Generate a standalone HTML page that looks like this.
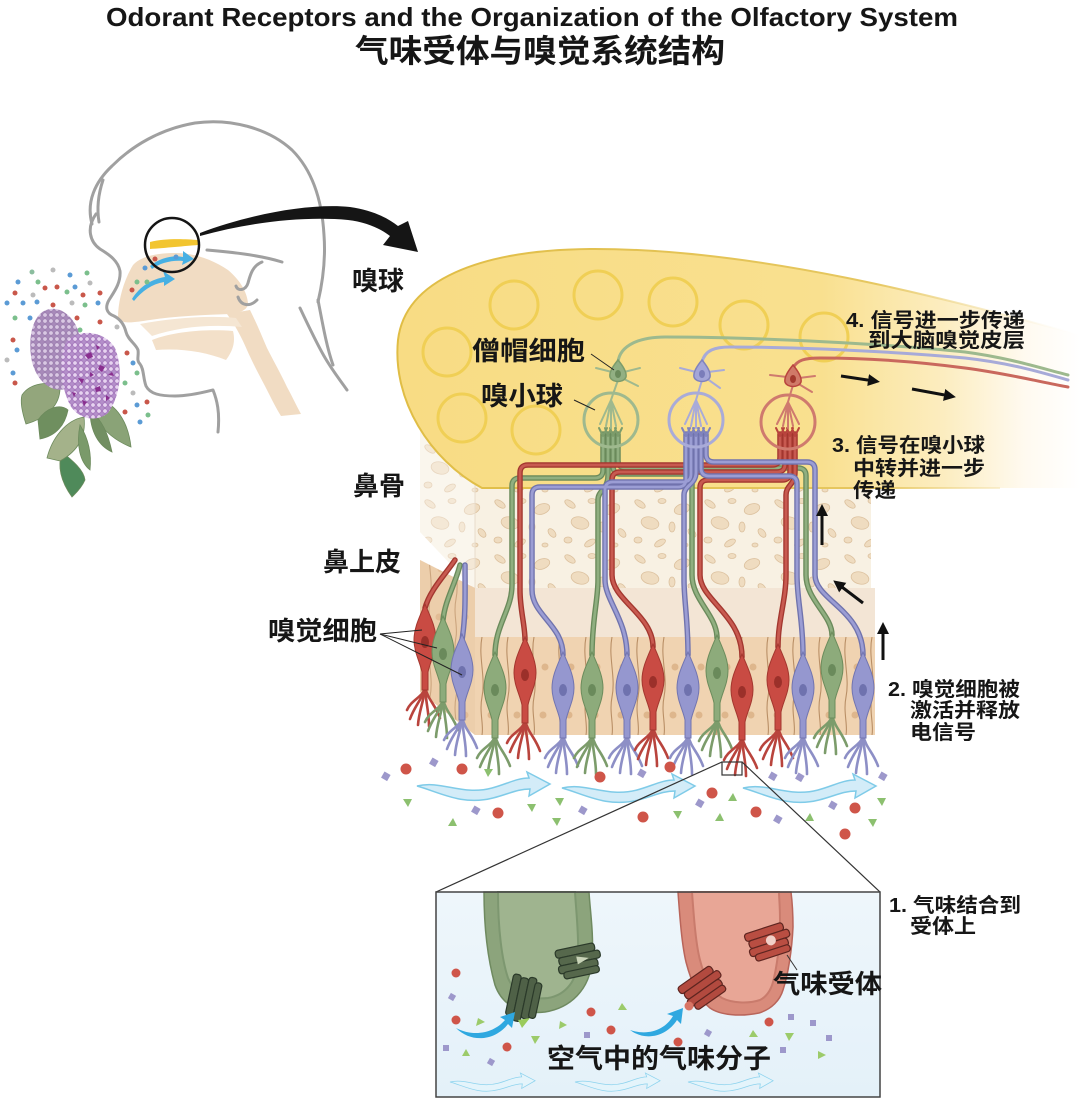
<!DOCTYPE html>
<html><head><meta charset="utf-8"><style>
html,body{margin:0;padding:0;background:#fff;}
svg{display:block;}
text{font-family:"Liberation Sans","Noto Sans CJK SC",sans-serif;font-weight:bold;fill:#161616;}
</style></head><body>
<svg width="1080" height="1099" viewBox="0 0 1080 1099" xmlns="http://www.w3.org/2000/svg">
<defs>
<linearGradient id="bulbG" gradientUnits="userSpaceOnUse" x1="400" y1="0" x2="1080" y2="0">
<stop offset="0" stop-color="#f8dc84"/><stop offset="0.62" stop-color="#f9e08f"/><stop offset="0.8" stop-color="#fcedc0"/><stop offset="0.92" stop-color="#fffaf0"/><stop offset="1" stop-color="#ffffff"/></linearGradient>
<linearGradient id="bulbS" gradientUnits="userSpaceOnUse" x1="400" y1="0" x2="1080" y2="0">
<stop offset="0" stop-color="#e0bd45"/><stop offset="0.7" stop-color="#e6c760"/><stop offset="0.9" stop-color="#f6e6b8" stop-opacity="0.5"/><stop offset="1" stop-color="#fff" stop-opacity="0"/></linearGradient>
<linearGradient id="insetG" x1="0" y1="0" x2="0" y2="1"><stop offset="0" stop-color="#eef6fb"/><stop offset="1" stop-color="#e4f1f9"/></linearGradient>
<pattern id="boneP" patternUnits="userSpaceOnUse" width="70" height="55">
<rect width="70" height="55" fill="#f8f1e3"/>
<g fill="#efdcc0" stroke="#dcc19e" stroke-width="0.8">
<ellipse cx="10" cy="9" rx="6" ry="3" transform="rotate(35 10 9)"/>
<ellipse cx="32" cy="6" rx="4" ry="2.5"/>
<ellipse cx="52" cy="14" rx="8" ry="5" transform="rotate(-20 52 14)"/>
<ellipse cx="20" cy="28" rx="9" ry="6" transform="rotate(15 20 28)"/>
<ellipse cx="42" cy="32" rx="3" ry="5"/>
<ellipse cx="62" cy="38" rx="5" ry="3" transform="rotate(50 62 38)"/>
<ellipse cx="8" cy="45" rx="4" ry="3"/>
<ellipse cx="30" cy="48" rx="6" ry="3" transform="rotate(-30 30 48)"/>
<ellipse cx="55" cy="50" rx="3" ry="2"/>
</g></pattern>
<pattern id="epiP" patternUnits="userSpaceOnUse" width="26" height="98" patternTransform="translate(475,637)">
<rect width="26" height="98" fill="#f0d3b1"/>
<path d="M7,0 C3,20 11,40 7,60 C4,75 9,88 7,98" stroke="#b98f66" stroke-width="1.1" fill="none"/>
<circle cx="18" cy="30" r="3.5" fill="#deb68c"/><circle cx="16" cy="78" r="3.5" fill="#deb68c"/>
</pattern>
<pattern id="lilacP" patternUnits="userSpaceOnUse" width="6" height="6">
<rect width="6" height="6" fill="#b48fca"/>
<circle cx="3" cy="3" r="2.3" fill="#e6d3f0" stroke="#a070b8" stroke-width="0.8"/>
</pattern>
<pattern id="lilacP2" patternUnits="userSpaceOnUse" width="6" height="6">
<rect width="6" height="6" fill="#a88aba"/>
<circle cx="3" cy="3" r="2.3" fill="#d9c8e3" stroke="#9a7cad" stroke-width="0.8"/>
</pattern>
<marker id="ah" viewBox="0 0 10 10" refX="5" refY="5" markerWidth="4" markerHeight="4" orient="auto"><path d="M0,0 L10,5 L0,10 Z" fill="#111"/></marker>
<path id="nb" d="M0,652 C6,666 11,676 11,688 C11,700 5,710 3,720 L3,738 L-3,738 L-3,720 C-5,710 -11,700 -11,688 C-11,676 -6,666 0,652 Z"/>
<g id="nd" fill="none" stroke-width="2.6" stroke-linecap="round"><path d="M0,735 C-3,748 -10,753 -15,767"/><path d="M0,735 C-1,750 -6,758 -7,773"/><path d="M0,735 C1,752 4,760 4,774"/><path d="M0,735 C3,748 10,752 15,766"/><path d="M0,736 C-2,745 -14,748 -18,758"/></g>
<path id="rib" d="M0,0 C25,-6 45,10 75,2 C90,-2 100,-8 112,-8 L110,-14 L133,-2 L112,10 L113,3 C100,3 92,8 76,12 C45,20 22,6 0,0 Z"/>
<path id="aN1" d="M495,655 C495,625 512,610 512,585 L512,486 Q512,478 520,478 L595,478 Q603,478 603,470 L603,434"/>
<path id="aN4" d="M592,655 C592,620 598,600 598,580 L598,500 C598,490 608,490 608,475 L608,434"/>
<path id="aN8" d="M717,638 C717,615 692,600 692,575 L692,482 Q692,474 684,474 L621,474 Q613,474 613,466 L613,434"/>
<path id="aN12" d="M832,635 C832,615 806,600 806,575 L806,476 Q806,468 798,468 L626,468 Q618,468 618,460 L618,434"/>
<path id="aL2" d="M443,620 C445,600 455,585 460,565"/>
<path id="aN2" d="M525,640 C525,625 520,610 520,590 L520,473 Q520,465 528,465 L772,465 Q780,465 780,457 L780,434"/>
<path id="aN6" d="M653,647 C653,615 612,600 612,575 L612,480 Q612,472 620,472 L777,472 Q785,472 785,464 L785,434"/>
<path id="aN9" d="M742,657 C742,615 700,600 700,575 L700,488 Q700,480 708,480 L782,480 Q790,480 790,472 L790,434"/>
<path id="aN10" d="M778,647 C778,620 786,600 786,575 L786,495 C786,485 795,485 795,472 L795,434"/>
<path id="aL1" d="M425,608 C430,590 445,575 455,560"/>
<path id="aN3" d="M563,655 C563,625 532,615 532,590 L532,495 Q532,487 540,487 L678,487 Q686,487 686,479 L686,434"/>
<path id="aN5" d="M627,655 C627,620 605,600 605,580 L605,490 Q605,482 613,482 L683,482 Q691,482 691,474 L691,434"/>
<path id="aN7" d="M688,655 C688,620 684,600 684,580 L684,495 C684,485 696,485 696,472 L696,434"/>
<path id="aN11" d="M803,655 C803,620 797,600 797,575 L797,484 Q797,476 789,476 L709,476 Q701,476 701,468 L701,434"/>
<path id="aN13" d="M863,655 C863,610 815,600 815,575 L815,470 Q815,462 807,462 L714,462 Q706,462 706,454 L706,434"/>
<path id="aL3" d="M462,640 C466,615 465,590 465,565"/>
</defs>

<rect width="1080" height="1099" fill="#fff"/>

<!-- Titles -->
<text x="106" y="26" font-size="26" textLength="852" lengthAdjust="spacingAndGlyphs">Odorant Receptors and the Organization of the Olfactory System</text>
<text x="355" y="62" font-size="32" textLength="370" lengthAdjust="spacingAndGlyphs">气味受体与嗅觉系统结构</text>

<!-- ============ HEAD ============ -->
<g fill="#f1dcc3">
<path d="M118,318 C118,300 124,280 133,265 C140,257 155,253 175,253 C195,253 213,260 228,270 C240,280 247,292 248,303 C248,310 240,313 230,314 C205,315 175,316 150,320 C135,322 122,325 118,318 Z"/>
<path d="M227,314 C235,325 242,338 247,350 C255,368 262,380 267,390 C272,400 276,408 281,416 L301,414 C296,405 292,396 287,387 C280,372 273,360 267,348 C261,334 256,322 250,310 Z"/>
<path d="M140,324 C170,318 210,315 236,318 L242,327 C210,324 178,327 152,336 Z" fill="#f5e6d3"/>
<path d="M152,340 C175,331 208,329 233,331 C236,343 232,352 226,360 C206,352 182,348 156,350 Z" fill="#f3e0c9"/>
</g>
<g fill="none" stroke="#a0a0a0" stroke-width="3" stroke-linecap="round" stroke-linejoin="round">
<path d="M92,224 C86,202 95,182 112,166 C132,146 160,129 195,123 C230,118 268,128 292,150 C312,170 322,200 324,235 C326,262 322,285 318,302"/>
<path d="M96,214 C86,228 90,242 100,249 C110,255 118,261 120,271 C121,283 114,292 109,300 C105,307 106,313 114,316 C120,319 124,324 126,332 C128,340 136,344 138,350 C139,356 136,360 140,364 C144,369 143,378 146,386 C150,394 160,396 175,396 C190,396 205,392 213,390 C217,400 220,412 218,432"/>
<path d="M300,308 C308,325 316,342 324,356 C332,370 340,380 347,390"/>
<path d="M318,300 C322,320 326,345 333,365"/>
<path d="M207,250 C230,252 260,255 282,262"/>
<path d="M262,262 C252,266 250,276 248,283 C246,290 238,292 236,286"/>
<path d="M238,297 C241,306 250,307 257,300"/>
<path d="M103,180 C98,195 97,210 99,222"/>
</g>
<path d="M132,299 C140,286 152,279 165,277 L163,271 L175,279 L164,286 L164,282 C152,284 142,291 134,301 Z" fill="#47b0e3"/>
<path d="M150,266 C160,258 172,255 183,257 L183,251 L194,259 L182,265 L183,261 C172,260 160,263 152,269 Z" fill="#47b0e3"/>
<path d="M150,242 C165,238 185,239 198,240 L198,245 C185,246 165,248 150,249 Z" fill="#f2c530"/>
<circle cx="172" cy="245" r="27" fill="none" stroke="#151515" stroke-width="2.5"/>
<path d="M200,233 C250,214 310,203 350,207 C372,210 388,218 398,226 L408,221 L418,252 L383,245 L390,236 C380,228 365,222 348,220 C305,216 250,222 200,236 Z" fill="#151515"/>
<g>
<circle cx="32" cy="272" r="2.5" fill="#8bbd9e"/><circle cx="53" cy="270" r="2.5" fill="#bbb"/><circle cx="70" cy="275" r="2.5" fill="#5b9bd5"/><circle cx="87" cy="273" r="2.5" fill="#7bbf8c"/>
<circle cx="18" cy="282" r="2.5" fill="#5b9bd5"/><circle cx="38" cy="282" r="2.5" fill="#7bbf8c"/><circle cx="57" cy="287" r="2.5" fill="#c9574a"/><circle cx="75" cy="287" r="2.5" fill="#5b9bd5"/>
<circle cx="90" cy="283" r="2.5" fill="#bbb"/><circle cx="15" cy="293" r="2.5" fill="#c9574a"/><circle cx="45" cy="288" r="2.5" fill="#c9574a"/><circle cx="33" cy="295" r="2.5" fill="#bbb"/>
<circle cx="67" cy="292" r="2.5" fill="#7bbf8c"/><circle cx="83" cy="295" r="2.5" fill="#c9574a"/><circle cx="100" cy="293" r="2.5" fill="#c9574a"/><circle cx="7" cy="303" r="2.5" fill="#5b9bd5"/>
<circle cx="23" cy="303" r="2.5" fill="#5b9bd5"/><circle cx="37" cy="302" r="2.5" fill="#5b9bd5"/><circle cx="53" cy="305" r="2.5" fill="#c9574a"/><circle cx="72" cy="303" r="2.5" fill="#bbb"/>
<circle cx="85" cy="305" r="2.5" fill="#7bbf8c"/><circle cx="98" cy="303" r="2.5" fill="#5b9bd5"/><circle cx="15" cy="318" r="2.5" fill="#7bbf8c"/><circle cx="30" cy="318" r="2.5" fill="#5b9bd5"/>
<circle cx="77" cy="318" r="2.5" fill="#c9574a"/><circle cx="100" cy="322" r="2.5" fill="#c9574a"/><circle cx="117" cy="327" r="2.5" fill="#bbb"/><circle cx="80" cy="330" r="2.5" fill="#7bbf8c"/>
<circle cx="13" cy="340" r="2.5" fill="#c9574a"/><circle cx="17" cy="350" r="2.5" fill="#5b9bd5"/><circle cx="7" cy="360" r="2.5" fill="#bbb"/><circle cx="127" cy="353" r="2.5" fill="#c9574a"/>
<circle cx="133" cy="363" r="2.5" fill="#5b9bd5"/><circle cx="137" cy="373" r="2.5" fill="#7bbf8c"/><circle cx="13" cy="373" r="2.5" fill="#5b9bd5"/><circle cx="15" cy="383" r="2.5" fill="#c9574a"/>
<circle cx="125" cy="383" r="2.5" fill="#7bbf8c"/><circle cx="133" cy="393" r="2.5" fill="#bbb"/><circle cx="137" cy="405" r="2.5" fill="#5b9bd5"/><circle cx="147" cy="402" r="2.5" fill="#c9574a"/>
<circle cx="148" cy="415" r="2.5" fill="#7bbf8c"/><circle cx="125" cy="412" r="2.5" fill="#c9574a"/><circle cx="140" cy="422" r="2.5" fill="#5b9bd5"/>
<circle cx="155" cy="259" r="2.5" fill="#c9574a"/><circle cx="176" cy="257" r="2.5" fill="#5b9bd5"/><circle cx="145" cy="268" r="2.5" fill="#5b9bd5"/>
<circle cx="137" cy="282" r="2.5" fill="#7bbf8c"/><circle cx="147" cy="282" r="2.5" fill="#7bbf8c"/><circle cx="132" cy="290" r="2.5" fill="#c9574a"/>
</g>
<!-- lilac leaves -->
<g stroke="#6c8a5c" stroke-width="0.8">
<path d="M100,400 C115,404 128,420 131,447 C118,442 103,432 94,415 Z" fill="#8aa377"/>
<path d="M90,410 C102,420 108,433 112,452 C99,446 90,432 90,410 Z" fill="#728f62"/>
<path d="M22,395 C30,383 50,380 60,388 C60,405 47,418 26,424 C22,412 20,402 22,395 Z" fill="#93a67c"/>
<path d="M38,420 C46,408 60,403 68,410 C65,425 56,436 40,439 Z" fill="#6f8f5f"/>
<path d="M62,452 C72,460 84,470 85,480 C81,489 75,494 72,497 C64,486 56,470 62,452 Z" fill="#4f8a5a"/>
<path d="M47,458 C52,438 66,420 84,417 C86,434 80,450 60,461 Z" fill="#a4b28a"/>
<path d="M80,425 C88,438 92,452 90,470 C80,462 76,445 80,425 Z" fill="#7a9a6a"/>
</g>
<path d="M40,314 C52,303 70,310 78,330 C84,352 80,372 68,388 C54,394 38,384 32,362 C28,342 31,323 40,314 Z" fill="url(#lilacP2)"/>
<path d="M66,342 C78,328 104,330 115,348 C123,368 121,395 108,413 C96,423 78,419 70,405 C60,385 59,360 66,342 Z" fill="url(#lilacP)"/>
<g fill="#8a2f8f">
<path d="M85,355 l6,-3 l2,5 l-5,2 Z"/><path d="M100,365 l5,2 l-3,5 l-4,-3 Z"/><path d="M78,378 l6,1 l-2,5 Z"/><path d="M95,388 l5,-2 l1,5 l-5,1 Z"/><path d="M106,395 l4,3 l-4,3 Z"/><path d="M82,400 l5,2 l-3,4 Z"/><path d="M108,375 l4,-3 l2,4 Z"/><path d="M90,372 l4,3 l-4,2 Z"/><path d="M96,345 l4,2 l-3,3 Z"/><path d="M72,392 l4,1 l-2,4 Z"/>
</g>

<!-- ============ BONE + EPITHELIUM ============ -->
<polygon points="420,420 475,450 475,590 420,532" fill="url(#boneP)"/>
<polygon points="420,420 475,450 475,590 420,532" fill="#fff" opacity="0.35"/>
<rect x="475" y="440" width="396" height="150" fill="url(#boneP)"/>
<line x1="475" y1="450" x2="475" y2="590" stroke="#e8dccb" stroke-width="1"/>
<polygon points="420,560 475,588 475,735 420,692" fill="#e7c6a2"/>
<polygon points="420,560 475,588 475,735 420,692" fill="url(#epiP)" opacity="0.6"/>
<rect x="475" y="588" width="400" height="49" fill="#f3e5d5"/>
<rect x="475" y="637" width="400" height="98" fill="url(#epiP)"/>

<!-- ============ BULB ============ -->
<path d="M1080,335 C950,300 760,248 590,249 C480,250 405,280 398,340 C392,400 430,460 482,488 L1080,488 Z" fill="url(#bulbG)"/>
<path d="M1080,335 C950,300 760,248 590,249 C480,250 405,280 398,340 C392,400 430,460 482,488 L1000,488" fill="none" stroke="url(#bulbS)" stroke-width="2"/>
<g fill="none" stroke="#f0cf55" stroke-width="3">
<circle cx="447" cy="352" r="24"/><circle cx="514" cy="305" r="24"/><circle cx="598" cy="295" r="24"/><circle cx="673" cy="302" r="24"/>
<circle cx="744" cy="325" r="24"/><circle cx="824" cy="337" r="24"/><circle cx="462" cy="418" r="24"/><circle cx="536" cy="430" r="24"/>
</g>

<!-- ============ AXONS ============ -->
<g fill="none" stroke-linecap="round" stroke-linejoin="round">
<g stroke="#6a8a5b" stroke-width="5.5"><use href="#aN1"/><use href="#aN4"/><use href="#aN8"/><use href="#aN12"/><use href="#aL2"/></g>
<g stroke="#90af80" stroke-width="2.8"><use href="#aN1"/><use href="#aN4"/><use href="#aN8"/><use href="#aN12"/><use href="#aL2"/></g>
<g stroke="#a3372f" stroke-width="5.5"><use href="#aN2"/><use href="#aN6"/><use href="#aN9"/><use href="#aN10"/><use href="#aL1"/></g>
<g stroke="#c85a50" stroke-width="2.8"><use href="#aN2"/><use href="#aN6"/><use href="#aN9"/><use href="#aN10"/><use href="#aL1"/></g>
<g stroke="#7073ad" stroke-width="5.5"><use href="#aN3"/><use href="#aN5"/><use href="#aN7"/><use href="#aN11"/><use href="#aN13"/><use href="#aL3"/></g>
<g stroke="#9b9dd4" stroke-width="2.8"><use href="#aN3"/><use href="#aN5"/><use href="#aN7"/><use href="#aN11"/><use href="#aN13"/><use href="#aL3"/></g>
</g>
<g fill="none" stroke-width="2" stroke-linecap="round">
<path stroke="#7c9c6b" d="M603,436 L599,428 M603,436 L607,428 M608,436 L605,428 M608,436 L611,428 M613,436 L610,428 M613,436 L616,428 M618,436 L615,428 M618,436 L622,428"/>
<path stroke="#8083bd" d="M686,436 L682,428 M686,436 L690,428 M691,436 L688,428 M691,436 L694,428 M696,436 L693,428 M696,436 L699,428 M701,436 L698,428 M701,436 L704,428 M706,436 L703,428 M706,436 L710,428"/>
<path stroke="#b9443d" d="M780,436 L776,428 M780,436 L784,428 M785,436 L782,428 M785,436 L788,428 M790,436 L787,428 M790,436 L793,428 M795,436 L792,428 M795,436 L799,428"/>
</g>
<circle cx="611" cy="420" r="27" fill="none" stroke="#9fb98e" stroke-width="3"/>
<circle cx="696" cy="420" r="27" fill="none" stroke="#a9abd8" stroke-width="3"/>
<circle cx="788" cy="422" r="27" fill="none" stroke="#cf7a6e" stroke-width="3"/>
<g fill="none" stroke-width="2" stroke-linecap="round">
<path stroke="#9fb98e" d="M618,380 L611,400 M611,400 L600,424 M611,400 L606,426 M611,400 L611,428 M611,400 L616,426 M611,400 L622,424 M612,372 L596,368 M624,372 L640,368 M622,378 L638,386"/>
<path stroke="#a9abd8" d="M702,380 L696,400 M696,400 L685,424 M696,400 L691,426 M696,400 L696,428 M696,400 L701,426 M696,400 L707,424 M696,372 L680,368 M708,372 L724,370 M706,378 L720,388"/>
<path stroke="#cf7a6e" d="M793,385 L788,402 M788,402 L777,424 M788,402 L783,426 M788,402 L788,428 M788,402 L793,426 M788,402 L799,424 M787,377 L770,375 M799,378 L815,376 M797,383 L812,392"/>
</g>
<g fill="none" stroke-width="3" stroke-linecap="round">
<path stroke="#9db98e" d="M618,362 C620,345 640,337 665,337 C760,337 900,345 965,352 C1010,358 1040,368 1068,375"/>
<path stroke="#a7aad8" d="M702,362 C705,350 715,347 730,347 C800,347 900,352 965,358 C1010,363 1040,372 1068,380"/>
<path stroke="#c9685d" d="M793,368 C797,360 805,358 820,358 C870,358 920,362 965,368 C1010,374 1040,382 1068,387"/>
</g>
<g stroke-width="1.5">
<path d="M618,360 C623,366 627,372 626,377 C624,383 612,383 610,377 C609,372 613,366 618,360 Z" fill="#92b083" stroke="#7c9c6b"/>
<ellipse cx="618" cy="374" rx="3" ry="4" fill="#6a8a5b"/>
<path d="M702,360 C707,366 711,372 710,377 C708,383 696,383 694,377 C693,372 697,366 702,360 Z" fill="#a4a6d8" stroke="#8083bd"/>
<ellipse cx="702" cy="374" rx="3" ry="4" fill="#7a7dba"/>
<path d="M793,365 C798,371 802,377 801,382 C799,388 787,388 785,382 C784,377 788,371 793,365 Z" fill="#d07a68" stroke="#b9443d"/>
<ellipse cx="793" cy="379" rx="3" ry="4" fill="#a33a2e"/>
</g>

<!-- ============ NEURONS ============ -->
<g transform="translate(425,-48)"><use href="#nd" stroke="#b9443d"/><use href="#nb" fill="#c94b43" stroke="#a4372f"/><ellipse cx="0" cy="690" rx="4" ry="6" fill="#9b302a"/></g>
<g transform="translate(443,-36)"><use href="#nd" stroke="#7c9c6b"/><use href="#nb" fill="#8dab7b" stroke="#6c8c5c"/><ellipse cx="0" cy="690" rx="4" ry="6" fill="#6a8a5b"/></g>
<g transform="translate(462,-18)"><use href="#nd" stroke="#8d8fc6"/><use href="#nb" fill="#9597cf" stroke="#7275b0"/><ellipse cx="0" cy="690" rx="4" ry="6" fill="#6f72ae"/></g>
<g transform="translate(495,0)"><use href="#nd" stroke="#7c9c6b"/><use href="#nb" fill="#8dab7b" stroke="#6c8c5c"/><ellipse cx="0" cy="690" rx="4" ry="6" fill="#6a8a5b"/></g>
<g transform="translate(525,-15)"><use href="#nd" stroke="#b9443d"/><use href="#nb" fill="#c94b43" stroke="#a4372f"/><ellipse cx="0" cy="690" rx="4" ry="6" fill="#9b302a"/></g>
<g transform="translate(563,0)"><use href="#nd" stroke="#8d8fc6"/><use href="#nb" fill="#9597cf" stroke="#7275b0"/><ellipse cx="0" cy="690" rx="4" ry="6" fill="#6f72ae"/></g>
<g transform="translate(592,0)"><use href="#nd" stroke="#7c9c6b"/><use href="#nb" fill="#8dab7b" stroke="#6c8c5c"/><ellipse cx="0" cy="690" rx="4" ry="6" fill="#6a8a5b"/></g>
<g transform="translate(627,0)"><use href="#nd" stroke="#8d8fc6"/><use href="#nb" fill="#9597cf" stroke="#7275b0"/><ellipse cx="0" cy="690" rx="4" ry="6" fill="#6f72ae"/></g>
<g transform="translate(653,-8)"><use href="#nd" stroke="#b9443d"/><use href="#nb" fill="#c94b43" stroke="#a4372f"/><ellipse cx="0" cy="690" rx="4" ry="6" fill="#9b302a"/></g>
<g transform="translate(688,0)"><use href="#nd" stroke="#8d8fc6"/><use href="#nb" fill="#9597cf" stroke="#7275b0"/><ellipse cx="0" cy="690" rx="4" ry="6" fill="#6f72ae"/></g>
<g transform="translate(717,-17)"><use href="#nd" stroke="#7c9c6b"/><use href="#nb" fill="#8dab7b" stroke="#6c8c5c"/><ellipse cx="0" cy="690" rx="4" ry="6" fill="#6a8a5b"/></g>
<g transform="translate(742,2)"><use href="#nd" stroke="#b9443d"/><use href="#nb" fill="#c94b43" stroke="#a4372f"/><ellipse cx="0" cy="690" rx="4" ry="6" fill="#9b302a"/></g>
<g transform="translate(778,-8)"><use href="#nd" stroke="#b9443d"/><use href="#nb" fill="#c94b43" stroke="#a4372f"/><ellipse cx="0" cy="690" rx="4" ry="6" fill="#9b302a"/></g>
<g transform="translate(803,0)"><use href="#nd" stroke="#8d8fc6"/><use href="#nb" fill="#9597cf" stroke="#7275b0"/><ellipse cx="0" cy="690" rx="4" ry="6" fill="#6f72ae"/></g>
<g transform="translate(832,-20)"><use href="#nd" stroke="#7c9c6b"/><use href="#nb" fill="#8dab7b" stroke="#6c8c5c"/><ellipse cx="0" cy="690" rx="4" ry="6" fill="#6a8a5b"/></g>
<g transform="translate(863,0)"><use href="#nd" stroke="#8d8fc6"/><use href="#nb" fill="#9597cf" stroke="#7275b0"/><ellipse cx="0" cy="690" rx="4" ry="6" fill="#6f72ae"/></g>

<!-- ============ ARROWS ============ -->
<g stroke="#111" stroke-width="3" marker-end="url(#ah)">
<line x1="841" y1="376" x2="874" y2="381"/>
<line x1="912" y1="389" x2="950" y2="396"/>
<line x1="822" y1="545" x2="822" y2="510"/>
<line x1="863" y1="603" x2="838" y2="584"/>
<line x1="883" y1="660" x2="883" y2="628"/>
</g>

<!-- ============ AIR FLOW + MOLECULES ============ -->
<g fill="#d3ecf8" stroke="#7fcbe8" stroke-width="1.5">
<use href="#rib" transform="translate(417,786)"/>
<use href="#rib" transform="translate(562,788)"/>
<use href="#rib" transform="translate(743,788)"/>
</g>
<g fill="#cf5549">
<circle cx="406" cy="769" r="5.5"/><circle cx="462" cy="769" r="5.5"/><circle cx="600" cy="777" r="5.5"/><circle cx="670" cy="767" r="5.5"/>
<circle cx="712" cy="793" r="5.5"/><circle cx="498" cy="813" r="5.5"/><circle cx="643" cy="817" r="5.5"/><circle cx="756" cy="812" r="5.5"/>
<circle cx="855" cy="808" r="5.5"/><circle cx="845" cy="834" r="5.5"/>
</g>
<g fill="#9d98cb">
<rect x="382" y="773" width="7" height="7" transform="rotate(30 386 777)"/><rect x="430" y="759" width="7" height="7" transform="rotate(30 434 763)"/>
<rect x="472" y="807" width="7" height="7" transform="rotate(30 476 811)"/><rect x="579" y="807" width="7" height="7" transform="rotate(30 583 811)"/>
<rect x="638" y="770" width="7" height="7" transform="rotate(30 642 774)"/><rect x="696" y="800" width="7" height="7" transform="rotate(30 700 804)"/>
<rect x="769" y="773" width="7" height="7" transform="rotate(30 773 777)"/><rect x="796" y="774" width="7" height="7" transform="rotate(30 800 778)"/>
<rect x="829" y="802" width="7" height="7" transform="rotate(30 833 806)"/><rect x="774" y="816" width="7" height="7" transform="rotate(30 778 820)"/>
<rect x="879" y="773" width="7" height="7" transform="rotate(30 883 777)"/>
</g>
<g fill="#8cc06f">
<polygon points="403,799 412,799 408,807"/><polygon points="484,769 493,769 488,777"/><polygon points="527,804 536,804 532,812"/>
<polygon points="555,798 564,798 560,806"/><polygon points="448,826 457,826 453,818"/><polygon points="552,818 561,818 557,826"/>
<polygon points="673,811 682,811 678,819"/><polygon points="728,801 737,801 733,793"/><polygon points="715,821 724,821 720,813"/>
<polygon points="805,821 814,821 810,813"/><polygon points="877,798 886,798 882,806"/><polygon points="868,819 877,819 873,827"/>
</g>

<g fill="none" stroke="#333" stroke-width="1.2">
<rect x="722" y="762" width="20" height="13"/>
<line x1="722" y1="762" x2="436" y2="892"/>
<line x1="742" y1="762" x2="880" y2="892"/>
</g>

<!-- ============ INSET ============ -->
<rect x="436" y="892" width="444" height="205" fill="url(#insetG)"/>
<g>
<path d="M484,892 C484,930 488,960 495,985 C502,1005 520,1015 545,1012 C570,1008 590,990 592,960 C594,935 590,910 589,892 Z" fill="#8ca47c" stroke="#6f8a60" stroke-width="1.5"/>
<path d="M498,892 C498,930 502,960 508,978 C515,995 530,1000 548,998 C566,995 578,980 578,958 C579,935 576,910 575,892 Z" fill="#9fb48f" stroke="#7d9770" stroke-width="2"/>
<path d="M678,892 C680,920 682,945 686,962 C692,985 700,1000 710,1008 C720,1015 740,1017 759,1013 C772,1009 780,1000 783,990 C788,975 792,950 793,927 C793,910 792,900 791,892 Z" fill="#d98b7b" stroke="#b9655a" stroke-width="1.5"/>
<path d="M692,892 C694,920 696,945 700,960 C705,980 712,992 722,998 C732,1003 748,1004 760,1000 C768,996 772,988 774,978 C778,960 780,940 780,920 C780,905 779,898 779,892 Z" fill="#e8a696" stroke="#c97b6c" stroke-width="2"/>
</g>
<g transform="translate(579,960) rotate(-12)" stroke="#2b3a2a" stroke-width="1.2" fill="#56684c">
<rect x="-22" y="-14" width="40" height="8" rx="3"/><rect x="-20" y="-6" width="42" height="8" rx="3"/><rect x="-22" y="2" width="40" height="8" rx="3"/><rect x="-18" y="9" width="36" height="7" rx="3"/>
<polygon points="-2,-4 10,0 -2,4" fill="#c9d4b8" stroke="none"/>
</g>
<g transform="translate(523,998) rotate(12)" stroke="#2b3a2a" stroke-width="1.2" fill="#4f6147">
<rect x="-14" y="-22" width="8" height="42" rx="3"/><rect x="-6" y="-20" width="8" height="44" rx="3"/><rect x="2" y="-22" width="8" height="42" rx="3"/><rect x="9" y="-18" width="7" height="36" rx="3"/>
</g>
<polygon points="518,1020 530,1018 522,1028" fill="#9acb5b"/>
<g transform="translate(769,941) rotate(-18)" stroke="#5e2520" stroke-width="1.2" fill="#b94e42">
<rect x="-22" y="-14" width="40" height="8" rx="3"/><rect x="-20" y="-6" width="42" height="8" rx="3"/><rect x="-22" y="2" width="40" height="8" rx="3"/><rect x="-18" y="9" width="36" height="7" rx="3"/>
<circle cx="2" cy="0" r="5" fill="#f1d0c8" stroke="none"/>
</g>
<g transform="translate(703,987) rotate(-35)" stroke="#5e2520" stroke-width="1.2" fill="#b24a3f">
<rect x="-22" y="-14" width="40" height="8" rx="3"/><rect x="-20" y="-6" width="42" height="8" rx="3"/><rect x="-22" y="2" width="40" height="8" rx="3"/><rect x="-18" y="9" width="36" height="7" rx="3"/>
</g>
<circle cx="689" cy="1006" r="4.5" fill="#d97565"/>
<line x1="787" y1="955" x2="797" y2="970" stroke="#333" stroke-width="1"/>
<path d="M456,1028 C475,1038 495,1032 505,1020 L500,1017 L515,1012 L512,1028 L508,1024 C496,1040 472,1044 456,1028 Z" fill="#2fa8e0"/>
<path d="M630,1030 C648,1036 665,1030 673,1016 L667,1014 L683,1008 L681,1024 L677,1020 C667,1036 646,1042 630,1030 Z" fill="#2fa8e0"/>
<g fill="#cf5549">
<circle cx="456" cy="973" r="4.5"/><circle cx="456" cy="1020" r="4.5"/><circle cx="507" cy="1047" r="4.5"/><circle cx="591" cy="1012" r="4.5"/>
<circle cx="611" cy="1030" r="4.5"/><circle cx="678" cy="1042" r="4.5"/><circle cx="769" cy="1022" r="4.5"/>
</g>
<g fill="#9d98cb">
<rect x="449" y="994" width="6" height="6" transform="rotate(30 452 997)"/><rect x="443" y="1045" width="6" height="6"/><rect x="488" y="1059" width="6" height="6" transform="rotate(30 491 1062)"/>
<rect x="584" y="1032" width="6" height="6"/><rect x="705" y="1030" width="6" height="6" transform="rotate(30 708 1033)"/><rect x="788" y="1014" width="6" height="6"/>
<rect x="810" y="1020" width="6" height="6"/><rect x="826" y="1035" width="6" height="6"/><rect x="780" y="1047" width="6" height="6"/>
</g>
<g fill="#9ccb6a">
<polygon points="476,1026 485,1022 478,1018"/><polygon points="462,1056 470,1056 466,1049"/><polygon points="531,1036 540,1036 535,1044"/>
<polygon points="559,1029 567,1025 560,1021"/><polygon points="618,1010 627,1010 622,1003"/><polygon points="749,1037 758,1037 753,1030"/>
<polygon points="785,1033 794,1033 789,1041"/><polygon points="818,1059 826,1055 818,1051"/>
</g>
<g fill="#e4f4fb" stroke="#8dd3ee" stroke-width="1.2">
<use href="#rib" transform="translate(450,1082) scale(0.64)"/>
<use href="#rib" transform="translate(575,1082) scale(0.64)"/>
<use href="#rib" transform="translate(688,1082) scale(0.64)"/>
</g>
<rect x="436" y="892" width="444" height="205" fill="none" stroke="#444" stroke-width="1.5"/>

<!-- ============ LABEL LEADERS ============ -->
<g stroke="#222" stroke-width="1" fill="none">
<line x1="591" y1="354" x2="614" y2="370"/>
<line x1="574" y1="400" x2="595" y2="410"/>
<line x1="380" y1="634" x2="422" y2="630"/>
<line x1="380" y1="634" x2="437" y2="648"/>
<line x1="380" y1="634" x2="462" y2="675"/>
</g>

<!-- ============ LABELS ============ -->
<text x="352" y="290" font-size="26">嗅球</text>
<text x="353" y="495" font-size="26">鼻骨</text>
<text x="323" y="571" font-size="26">鼻上皮</text>
<text x="268" y="640" font-size="26" textLength="109" lengthAdjust="spacingAndGlyphs">嗅觉细胞</text>
<text x="472" y="360" font-size="26" textLength="113" lengthAdjust="spacingAndGlyphs">僧帽细胞</text>
<text x="481" y="405" font-size="26" textLength="82" lengthAdjust="spacingAndGlyphs">嗅小球</text>

<text x="846" y="327" font-size="20" textLength="179" lengthAdjust="spacingAndGlyphs">4. 信号进一步传递</text>
<text x="868" y="347" font-size="20" textLength="157" lengthAdjust="spacingAndGlyphs">到大脑嗅觉皮层</text>

<text x="832" y="452" font-size="20" textLength="153" lengthAdjust="spacingAndGlyphs">3. 信号在嗅小球</text>
<text x="853" y="475" font-size="20" textLength="132" lengthAdjust="spacingAndGlyphs">中转并进一步</text>
<text x="853" y="497" font-size="20" textLength="43" lengthAdjust="spacingAndGlyphs">传递</text>

<text x="888" y="696" font-size="20" textLength="132" lengthAdjust="spacingAndGlyphs">2. 嗅觉细胞被</text>
<text x="910" y="717" font-size="20" textLength="110" lengthAdjust="spacingAndGlyphs">激活并释放</text>
<text x="910" y="739" font-size="20" textLength="66" lengthAdjust="spacingAndGlyphs">电信号</text>

<text x="889" y="912" font-size="20" textLength="132" lengthAdjust="spacingAndGlyphs">1. 气味结合到</text>
<text x="910" y="933" font-size="20" textLength="66" lengthAdjust="spacingAndGlyphs">受体上</text>

<text x="773" y="993" font-size="26" textLength="109" lengthAdjust="spacingAndGlyphs">气味受体</text>
<text x="547" y="1068" font-size="27" textLength="224" lengthAdjust="spacingAndGlyphs">空气中的气味分子</text>
</svg>
</body></html>
